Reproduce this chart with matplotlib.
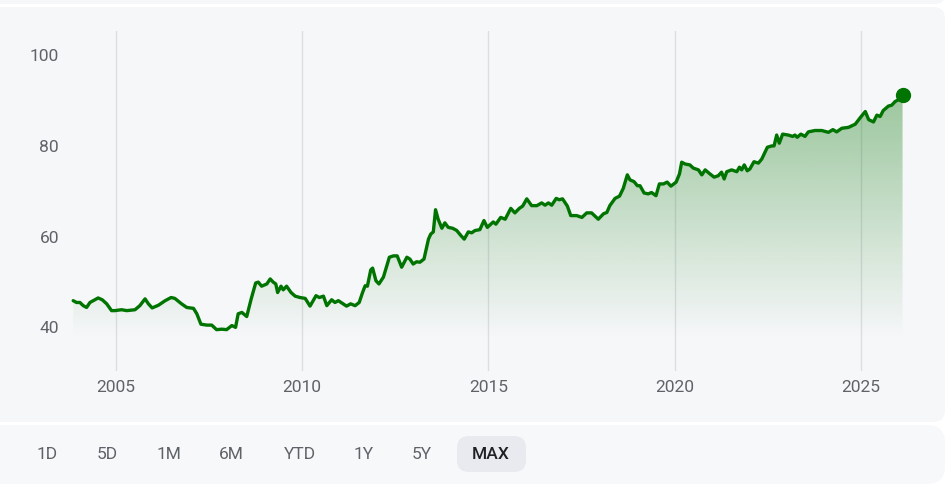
import numpy as np
import matplotlib.pyplot as plt
from matplotlib.patches import FancyBboxPatch
from matplotlib.colors import to_rgb

plt.rcParams['font.family'] = ['Roboto', 'DejaVu Sans']

# Serie de precios (año decimal, valor)
years = [
    2003.85, 2003.94, 2004.03, 2004.12, 2004.21, 2004.30, 2004.39, 2004.52, 2004.63, 2004.75,
    2004.88, 2004.97, 2005.15, 2005.29, 2005.51, 2005.64, 2005.78, 2005.87, 2005.97, 2006.14,
    2006.32, 2006.48, 2006.58, 2006.76, 2006.90, 2007.08, 2007.17, 2007.28, 2007.44, 2007.57,
    2007.70, 2007.84, 2007.97, 2008.11, 2008.21, 2008.28, 2008.38, 2008.51, 2008.63, 2008.75,
    2008.82, 2008.91, 2009.05, 2009.14, 2009.22, 2009.29, 2009.34, 2009.43, 2009.49, 2009.58,
    2009.70, 2009.81, 2009.94, 2010.08, 2010.21, 2010.37, 2010.46, 2010.57, 2010.66, 2010.79,
    2010.88, 2010.97, 2011.10, 2011.19, 2011.30, 2011.42, 2011.53, 2011.62, 2011.69, 2011.75,
    2011.84, 2011.89, 2011.98, 2012.06, 2012.18, 2012.34, 2012.45, 2012.55, 2012.67, 2012.81,
    2012.89, 2012.98, 2013.07, 2013.16, 2013.27, 2013.39, 2013.45, 2013.52, 2013.58, 2013.65,
    2013.75, 2013.83, 2013.92, 2014.04, 2014.15, 2014.26, 2014.35, 2014.46, 2014.55, 2014.64,
    2014.77, 2014.88, 2014.97, 2015.13, 2015.20, 2015.33, 2015.45, 2015.60, 2015.71, 2015.83,
    2015.92, 2016.03, 2016.16, 2016.30, 2016.43, 2016.52, 2016.61, 2016.70, 2016.82, 2016.90,
    2016.99, 2017.12, 2017.21, 2017.37, 2017.51, 2017.64, 2017.77, 2017.95, 2018.09, 2018.18,
    2018.26, 2018.40, 2018.52, 2018.62, 2018.73, 2018.80, 2018.91, 2019.00, 2019.07, 2019.18,
    2019.29, 2019.38, 2019.50, 2019.59, 2019.70, 2019.80, 2019.90, 2020.04, 2020.13, 2020.19,
    2020.28, 2020.41, 2020.50, 2020.64, 2020.73, 2020.82, 2020.95, 2021.06, 2021.17, 2021.26,
    2021.33, 2021.40, 2021.53, 2021.67, 2021.74, 2021.80, 2021.87, 2021.95, 2022.02, 2022.13,
    2022.25, 2022.34, 2022.49, 2022.61, 2022.67, 2022.74, 2022.81, 2022.90, 2023.05, 2023.17,
    2023.23, 2023.29, 2023.39, 2023.50, 2023.59, 2023.77, 2023.95, 2024.13, 2024.25, 2024.35,
    2024.49, 2024.67, 2024.85, 2024.99, 2025.12, 2025.21, 2025.34, 2025.43, 2025.52, 2025.60,
    2025.74, 2025.83, 2025.92, 2026.01, 2026.12,
]
values = [
    45.6, 45.2, 45.2, 44.5, 44.1, 45.2, 45.6, 46.2, 45.8, 44.9,
    43.4, 43.4, 43.6, 43.4, 43.6, 44.5, 46.0, 44.9, 44.0, 44.6,
    45.6, 46.3, 46.1, 44.9, 44.1, 43.9, 42.7, 40.4, 40.2, 40.2,
    39.2, 39.3, 39.2, 40.1, 39.7, 42.7, 43.0, 42.1, 46.0, 49.5,
    49.7, 48.8, 49.3, 50.4, 49.7, 49.3, 47.4, 48.8, 48.0, 48.8,
    47.4, 46.6, 46.3, 46.1, 44.4, 46.7, 46.3, 46.6, 44.5, 45.8,
    45.2, 45.6, 44.9, 44.4, 44.9, 44.5, 45.2, 47.4, 48.9, 48.8,
    52.4, 52.8, 50.0, 49.3, 50.8, 55.2, 55.5, 55.5, 53.0, 55.2,
    54.8, 53.7, 54.2, 54.1, 54.8, 59.2, 60.3, 60.8, 65.7, 63.6,
    61.6, 62.8, 61.8, 61.6, 61.1, 60.0, 59.2, 60.8, 60.6, 61.1,
    61.3, 63.3, 61.8, 63.0, 62.5, 64.0, 63.6, 66.0, 65.0, 66.0,
    66.5, 68.1, 66.6, 66.6, 67.2, 66.7, 67.2, 66.7, 68.2, 67.9,
    68.1, 66.5, 64.4, 64.4, 64.0, 65.0, 65.0, 63.6, 64.8, 65.1,
    66.6, 68.2, 68.7, 70.4, 73.4, 72.3, 71.9, 71.0, 71.0, 69.4,
    69.2, 69.5, 68.8, 71.4, 71.4, 71.8, 70.9, 71.8, 73.6, 76.2,
    75.8, 75.6, 74.9, 74.5, 73.4, 74.5, 73.6, 72.9, 73.2, 74.0,
    72.5, 74.1, 74.5, 74.1, 75.1, 74.5, 75.6, 74.3, 74.7, 76.3,
    76.0, 76.9, 79.5, 79.8, 79.8, 82.2, 80.4, 82.4, 82.2, 81.9,
    82.2, 81.7, 82.4, 81.9, 82.9, 83.2, 83.2, 82.8, 83.4, 82.9,
    83.7, 83.9, 84.6, 86.1, 87.4, 85.6, 85.1, 86.6, 86.3, 87.6,
    88.6, 88.8, 89.6, 90.0, 91.0,
]

x_ticks = [2005, 2010, 2015, 2020, 2025]
y_ticks = [40, 60, 80, 100]
ranges = ['1D', '5D', '1M', '6M', 'YTD', '1Y', '5Y', 'MAX']
range_x = [47, 107, 169, 231, 300, 364, 422, 491]
selected = 'MAX'

GREEN = '#007400'
PANEL = '#f6f7f9'
W, H = 952, 502

fig = plt.figure(figsize=(W / 100, H / 100), dpi=100)
fig.patch.set_facecolor('white')

# Fondo con los paneles redondeados (coordenadas en píxeles)
bg = fig.add_axes([0, 0, 1, 1])
bg.set_xlim(0, W)
bg.set_ylim(H, 0)
bg.axis('off')

def panel(x0, y0, x1, y1, r, color):
    p = FancyBboxPatch((x0 + r, y0 + r), (x1 - x0) - 2 * r, (y1 - y0) - 2 * r,
                       boxstyle=f'round,pad={r}', facecolor=color,
                       edgecolor='none', mutation_aspect=1)
    bg.add_patch(p)

panel(-20, -40, 945, 5, 10, PANEL)
panel(-20, 8, 945, 423, 12, PANEL)
panel(-20, 426, 945, 485, 18, '#f7f8fa')
panel(457, 437, 526, 473, 12, '#e9eaef')

for lab, xp in zip(ranges, range_x):
    sel = lab == selected
    bg.text(xp, 455, lab, ha='center', va='center',
            fontsize=12.5, color='#202124' if sel else '#5f6368',
            fontweight='medium' if sel else 'normal')

# Eje del gráfico
px_left, px_right, px_top, px_bottom = 66, 945, 32, 372
ax = fig.add_axes([px_left / W, 1 - px_bottom / H,
                   (px_right - px_left) / W, (px_bottom - px_top) / H])
ax.patch.set_alpha(0)

for s in ax.spines.values():
    s.set_visible(False)
ax.set_xticks(x_ticks)
ax.set_xticklabels([str(t) for t in x_ticks])
ax.set_yticks(y_ticks)
ax.tick_params(length=0, colors='#5f6368', labelsize=12.5)
ax.tick_params(axis='x', pad=6)
ax.tick_params(axis='y', pad=5)
ax.grid(axis='x', color='#dcdee3', linewidth=1)
ax.set_axisbelow(True)

# Relleno con degradado bajo la línea
x = np.array(years)
y = np.array(values)
fill_bottom = 37.1
poly = ax.fill_between(x, y, fill_bottom, facecolor='none', edgecolor='none')
top = y.max()
grad = np.linspace(0, 1, 256).reshape(-1, 1)
rgba = np.zeros((256, 1, 4))
rgba[..., :3] = to_rgb(GREEN)
rgba[..., 3] = 0.37 * grad[::-1]
img = ax.imshow(rgba, extent=[x.min(), x.max(), fill_bottom, top],
                origin='upper', aspect='auto', zorder=1)
img.set_clip_path(poly.get_paths()[0], transform=ax.transData)

ax.plot(x, y, color=GREEN, linewidth=2.4, solid_joinstyle='round',
        solid_capstyle='round', zorder=3)
ax.plot(x[-1], y[-1], 'o', color=GREEN, markersize=10, zorder=4)

ax.set_xlim(2003.657, 2027.26)
ax.set_ylim(30.06, 105.19)

fig.savefig('out.png', dpi=100, facecolor='white')
